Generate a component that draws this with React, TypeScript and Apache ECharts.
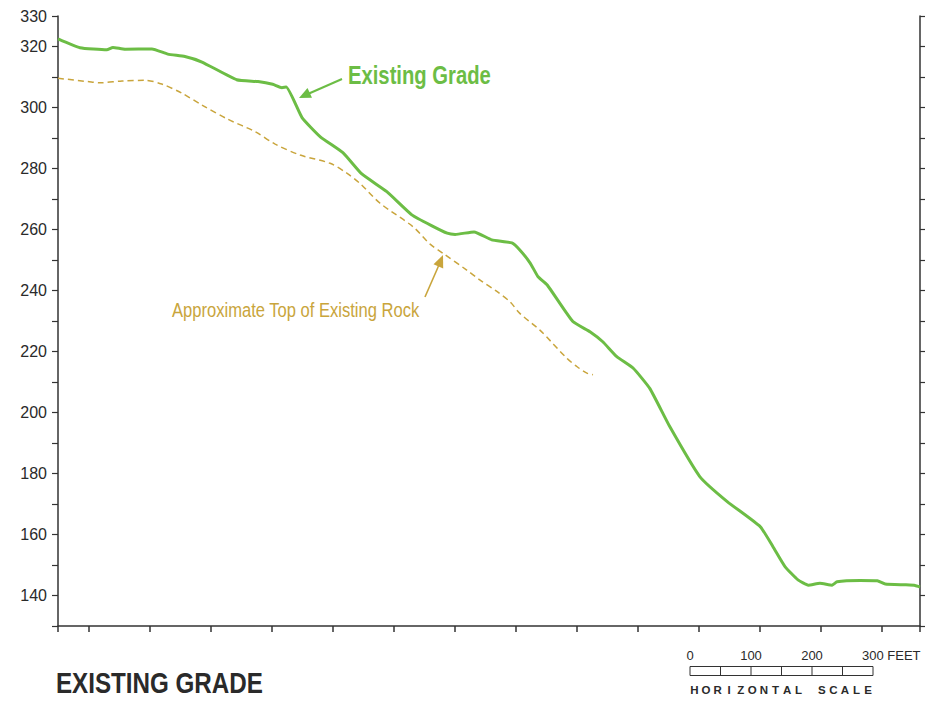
import React, { useEffect, useRef } from "react";
import * as echarts from "echarts";

// Existing grade profile: horizontal distance (feet) and elevation (feet)
const gradeDist = [0, 36, 80, 90, 110, 154, 180, 208, 236, 293, 328, 352, 367, 374, 400, 430, 467, 498, 539, 580, 613, 638, 651, 682, 711, 744, 757, 774, 787, 802, 844, 872, 893, 916, 943, 970, 1003, 1052, 1097, 1151, 1172, 1192, 1213, 1230, 1249, 1269, 1277, 1315, 1343, 1356, 1389, 1405, 1413];
const gradeElev = [322.5, 319.6, 318.9, 319.7, 319.1, 319.2, 317.5, 316.7, 314.9, 309.1, 308.5, 307.6, 306.5, 306.7, 296.7, 290.4, 285.2, 278.2, 272.4, 264.8, 261.2, 258.8, 258.4, 259.2, 256.6, 255.6, 253.3, 249.0, 244.5, 241.8, 229.8, 226.5, 223.2, 218.3, 214.5, 207.9, 195.3, 179.0, 170.8, 162.6, 156.0, 149.4, 145.1, 143.4, 144.0, 143.4, 144.5, 144.9, 144.8, 143.8, 143.5, 143.3, 142.8];

// Approximate top of existing rock
const rockDist = [0, 49, 69, 105, 143, 170, 203, 236, 279, 323, 356, 397, 446, 474, 495, 528, 582, 610, 631, 670, 692, 720, 741, 757, 790, 834, 851, 867, 877];
const rockElev = [309.6, 308.5, 308.1, 308.7, 308.9, 307.7, 304.7, 300.8, 296.1, 292.1, 288.0, 284.4, 281.7, 278.4, 275.1, 268.6, 260.9, 255.2, 252.2, 246.7, 243.4, 239.6, 236.3, 232.5, 227.0, 217.8, 215.0, 212.9, 212.4];

const xTicks = [0, 50, 150, 250, 350, 450, 550, 650, 750, 850, 950, 1050, 1150, 1250, 1350, 1413];
const yMin = 130;
const yMax = 330;
const xMax = 1413;

const scaleLabels = ["0", "100", "200", "300 FEET"];
const scaleTitle = "HORIZONTAL SCALE";

const GREEN = "#6cbd45";
const GOLD = "#c9a53c";
const DARK = "#2a2a2a";
const FONT = "'Liberation Sans', Arial, sans-serif";

export default function App() {
  const ref = useRef<HTMLDivElement>(null);
  useEffect(() => {
    if (!ref.current) return;
    const chart = echarts.init(ref.current, undefined, { renderer: "svg" });

    const graphic: any[] = [];
    // annotation: Existing Grade
    graphic.push({
      type: "text", x: 348, y: 75, scaleX: 0.81,
      style: { text: "Existing Grade", fill: GREEN, font: `bold 25px ${FONT}`, align: "left", verticalAlign: "middle" },
    });
    graphic.push({ type: "line", shape: { x1: 342, y1: 79, x2: 309, y2: 93.5 }, style: { stroke: GREEN, lineWidth: 2 } });
    graphic.push({ type: "polygon", shape: { points: [[299, 98], [312, 97.8], [307.5, 88]] }, style: { fill: GREEN } });
    // annotation: rock
    graphic.push({
      type: "text", x: 172, y: 311, scaleX: 0.85,
      style: { text: "Approximate Top of Existing Rock", fill: GOLD, font: `19.5px ${FONT}`, align: "left", verticalAlign: "middle" },
    });
    graphic.push({ type: "line", shape: { x1: 425, y1: 297, x2: 438.5, y2: 266 }, style: { stroke: GOLD, lineWidth: 1.6 } });
    graphic.push({ type: "polygon", shape: { points: [[443, 255], [443.2, 268.5], [433.5, 264.3]] }, style: { fill: GOLD } });
    // title
    graphic.push({
      type: "text", x: 56, y: 683, scaleX: 0.834,
      style: { text: "EXISTING GRADE", fill: DARK, font: `bold 29px ${FONT}`, align: "left", verticalAlign: "middle" },
    });
    // scale bar
    const sx0 = 690, sx1 = 873, segW = (sx1 - sx0) / 6;
    graphic.push({ type: "rect", shape: { x: sx0, y: 666.5, width: sx1 - sx0, height: 9 }, style: { fill: "#fff", stroke: "#333", lineWidth: 1 } });
    for (let i = 1; i < 6; i++) {
      graphic.push({ type: "line", shape: { x1: sx0 + i * segW, y1: 666.5, x2: sx0 + i * segW, y2: 675.5 }, style: { stroke: "#333", lineWidth: 1 } });
    }
    scaleLabels.forEach((t, i) => {
      const cx = sx0 + i * segW * 2;
      graphic.push({
        type: "text", x: i === 3 ? cx - 11 : cx, y: 655,
        style: { text: t, fill: DARK, font: `13px ${FONT}`, align: i === 3 ? "left" : "center", verticalAlign: "middle" },
      });
    });
    const chars = scaleTitle.split("");
    const step = (868 - 694.5) / (chars.length - 1);
    chars.forEach((c, i) => {
      if (c === " ") return;
      graphic.push({
        type: "text", x: 694.5 + i * step, y: 690,
        style: { text: c, fill: DARK, font: `bold 11.5px ${FONT}`, align: "center", verticalAlign: "middle" },
      });
    });

    chart.setOption({
      animation: false,
      backgroundColor: "#fff",
      grid: { left: 58, right: 5, top: 16, bottom: 78, containLabel: false },
      xAxis: {
        type: "value", min: 0, max: xMax,
        axisLine: { show: true, onZero: false, lineStyle: { color: "#333", width: 1.5 } },
        axisTick: { show: true, customValues: xTicks, length: 6, lineStyle: { color: "#333", width: 1.5 } },
        axisLabel: { show: false },
        splitLine: { show: false },
      },
      yAxis: [
        {
          type: "value", min: yMin, max: yMax, interval: 10, position: "left",
          axisLine: { show: true, lineStyle: { color: "#333", width: 1.5 } },
          axisTick: { show: true, length: 6, lineStyle: { color: "#333", width: 1.2 } },
          axisLabel: {
            show: true, margin: 11, color: DARK, fontSize: 16, fontFamily: FONT,
            showMaxLabel: true, showMinLabel: true,
            formatter: (v: number) => (v === 330 || (v % 20 === 0 && v >= 140) ? String(v) : ""),
          },
          splitLine: { show: false },
        },
        {
          type: "value", min: yMin, max: yMax, interval: 10, position: "right",
          axisLine: { show: true, lineStyle: { color: "#333", width: 1.5 } },
          axisTick: { show: true, inside: false, length: 5, lineStyle: { color: "#333", width: 1.2 } },
          axisLabel: { show: false },
          splitLine: { show: false },
        },
      ],
      series: [
        {
          name: "Approximate Top of Existing Rock", type: "line", showSymbol: false, symbol: "none", smooth: 0.3,
          data: rockDist.map((d, i) => [d, rockElev[i]]),
          lineStyle: { color: GOLD, width: 1.5, type: [6, 4] },
        },
        {
          name: "Existing Grade", type: "line", showSymbol: false, symbol: "none", smooth: 0.15,
          data: gradeDist.map((d, i) => [d, gradeElev[i]]),
          lineStyle: { color: GREEN, width: 3 },
        },
      ],
      graphic,
    });
    return () => chart.dispose();
  }, []);
  return <div ref={ref} style={{ position: "fixed", left: 0, top: 0, width: 925, height: 704, background: "#fff" }} />;
}
